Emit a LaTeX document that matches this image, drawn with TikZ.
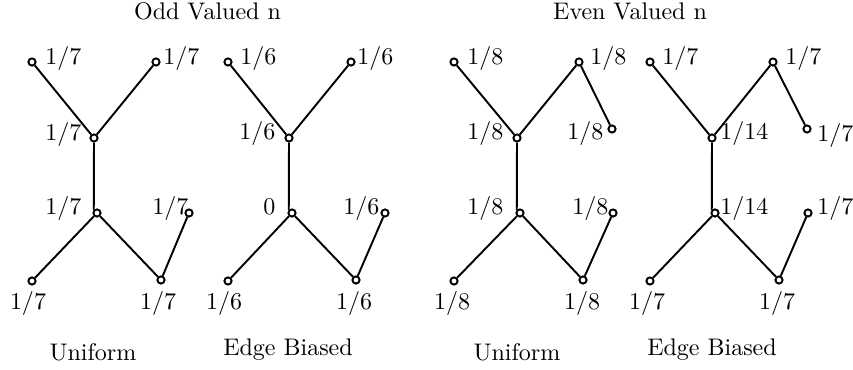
\documentclass[tikz,border=0pt]{standalone}
\begin{document}
\begin{tikzpicture}[x=0.4167pt,y=-0.4167pt,
  vtx/.style={circle,draw,fill=white,line width=0.8pt,inner sep=0pt,minimum size=3pt},
  edge/.style={line width=0.8pt},
  lab/.style={inner sep=0pt,anchor=base west},
  labc/.style={inner sep=0pt,anchor=base}]
\useasboundingbox (0,0) rectangle (853,370);
% titles
\node[labc] (t1) at (207.5,20) {Odd Valued n};
\node[labc] (t2) at (630,20) {Even Valued n};
\node[labc] (c1) at (93,361) {Uniform};
\node[labc] (c2) at (288,356) {Edge Biased};
\node[labc] (c3) at (517,361) {Uniform};
\node[labc] (c4) at (712,356) {Edge Biased};
% graph 1
\node[vtx] (a1) at (32,62) {};
\node[vtx] (a2) at (156,62) {};
\node[vtx] (a3) at (94,138) {};
\node[vtx] (a4) at (97,213) {};
\node[vtx] (a5) at (189,213) {};
\node[vtx] (a6) at (32,281) {};
\node[vtx] (a7) at (161,280) {};
\draw[edge] (a1)--(a3) (a2)--(a3) (a3)--(a4.north west) (a4)--(a6) (a4)--(a7) (a7)--(a5);
\node[lab] (la1) at (45,65) {$1/7$};
\node[lab] (la2) at (163,65) {$1/7$};
\node[lab] (la3) at (45,141) {$1/7$};
\node[lab] (la4) at (45,215) {$1/7$};
\node[lab] (la5) at (152,215) {$1/7$};
\node[labc] (la6) at (28,310) {$1/7$};
\node[labc] (la7) at (158,310) {$1/7$};
% graph 2
\node[vtx] (b1) at (228,62) {};
\node[vtx] (b2) at (351,62) {};
\node[vtx] (b3) at (289,138) {};
\node[vtx] (b4) at (292,213) {};
\node[vtx] (b5) at (385,213) {};
\node[vtx] (b6) at (228,281) {};
\node[vtx] (b7) at (356,280) {};
\draw[edge] (b1)--(b3) (b2)--(b3) (b3)--(b4.north west) (b4)--(b6) (b4)--(b7) (b7)--(b5);
\node[lab] (lb1) at (240,65) {$1/6$};
\node[lab] (lb2) at (357,65) {$1/6$};
\node[lab] (lb3) at (239,140) {$1/6$};
\node[lab] (lb4) at (263,215) {$0$};
\node[lab] (lb5) at (343,215) {$1/6$};
\node[labc] (lb6) at (224,310) {$1/6$};
\node[labc] (lb7) at (354,310) {$1/6$};
% graph 3
\node[vtx] (c1v) at (454,62) {};
\node[vtx] (c2v) at (579,62) {};
\node[vtx] (c8v) at (612,129) {};
\node[vtx] (c3v) at (517,138) {};
\node[vtx] (c4v) at (520,213) {};
\node[vtx] (c5v) at (613,213) {};
\node[vtx] (c6v) at (454,281) {};
\node[vtx] (c7v) at (583,280) {};
\draw[edge] (c1v)--(c3v) (c2v)--(c3v) (c2v)--(c8v) (c3v)--(c4v.north west) (c4v)--(c6v) (c4v)--(c7v) (c7v)--(c5v);
\node[lab] (lc1) at (467,65) {$1/8$};
\node[lab] (lc2) at (590,65) {$1/8$};
\node[lab] (lc8) at (567,140) {$1/8$};
\node[lab] (lc3) at (467,140) {$1/8$};
\node[lab] (lc4) at (467,215) {$1/8$};
\node[lab] (lc5) at (572,215) {$1/8$};
\node[labc] (lc6) at (452,310) {$1/8$};
\node[labc] (lc7) at (582,310) {$1/8$};
% graph 4
\node[vtx] (d1) at (650,62) {};
\node[vtx] (d2) at (773,62) {};
\node[vtx] (d8) at (807,129) {};
\node[vtx] (d3) at (712,138) {};
\node[vtx] (d4) at (715,213) {};
\node[vtx] (d5) at (808,213) {};
\node[vtx] (d6) at (650,281) {};
\node[vtx] (d7) at (779,280) {};
\draw[edge] (d1)--(d3) (d2)--(d3) (d2)--(d8) (d3)--(d4.north west) (d4)--(d6) (d4)--(d7) (d7)--(d5);
\node[lab] (ld1) at (662,65) {$1/7$};
\node[lab] (ld2) at (785,65) {$1/7$};
\node[lab] (ld8) at (817,142) {$1/7$};
\node[lab] (ld3) at (720,140) {$1/14$};
\node[lab] (ld4) at (720,215) {$1/14$};
\node[lab] (ld5) at (817,215) {$1/7$};
\node[labc] (ld6) at (647,310) {$1/7$};
\node[labc] (ld7) at (777,310) {$1/7$};
\end{tikzpicture}
\end{document}
